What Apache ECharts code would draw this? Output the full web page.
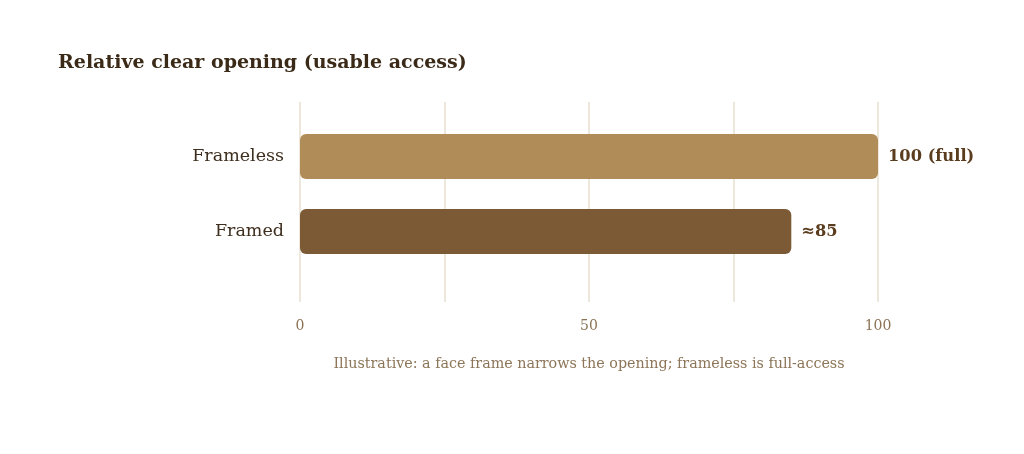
<!DOCTYPE html>
<html><head><meta charset="utf-8">
<script src="https://cdn.jsdelivr.net/npm/echarts@6/dist/echarts.min.js"></script>
<style>html,body{margin:0;padding:0;background:#fff}#c{width:1024px;height:454px}</style>
</head><body><div id="c"></div>
<script>
const categories = ['Frameless', 'Framed'];
const values = [100, 85];
const valueLabels = ['100 (full)', '≈85'];
const barColors = ['#b08d58', '#7b5a35'];
const tickLabels = {0: '0', 50: '50', 100: '100'};
const titleText = 'Relative clear opening (usable access)';
const captionText = 'Illustrative: a face frame narrows the opening; frameless is full-access';

const FONT = "'DejaVu Serif', 'Liberation Serif', serif";
const chart = echarts.init(document.getElementById('c'), null, {renderer: 'canvas'});
chart.setOption({
  animation: false,
  title: [{
    text: titleText, left: 53, top: 49,
    textStyle: {fontFamily: FONT, fontWeight: 'bold', fontSize: 19, color: '#3a2a17'}
  }, {
    text: captionText, left: 584, top: 352, textAlign: 'center',
    textStyle: {fontFamily: FONT, fontWeight: 'normal', fontSize: 14.3, color: '#8c7558'}
  }],
  grid: [
    {left: 300, width: 578, top: 102, height: 200},
    {left: 300, width: 578, top: 119, height: 150}
  ],
  xAxis: [{
    gridIndex: 0, type: 'value', min: 0, max: 100, interval: 25,
    axisLine: {show: false}, axisTick: {show: false},
    splitLine: {show: true, lineStyle: {color: '#e8dfd1', width: 1.5}},
    axisLabel: {
      margin: 17, fontFamily: FONT, fontSize: 14, color: '#8c7254',
      formatter: v => (tickLabels[v] !== undefined ? tickLabels[v] : '')
    }
  }, {
    gridIndex: 1, type: 'value', min: 0, max: 100, show: false
  }],
  yAxis: [{
    gridIndex: 0, type: 'category', data: categories, show: false
  }, {
    gridIndex: 1, type: 'category', data: categories, inverse: true,
    axisLine: {show: false}, axisTick: {show: false}, splitLine: {show: false},
    axisLabel: {margin: 16, fontFamily: FONT, fontSize: 17.5, color: '#3d2e1e'}
  }],
  series: [{
    type: 'bar', xAxisIndex: 1, yAxisIndex: 1, barWidth: 45,
    data: values.map((v, i) => ({value: v, itemStyle: {color: barColors[i]}})),
    itemStyle: {borderRadius: 6},
    label: {
      show: true, position: 'right', distance: 10,
      fontFamily: FONT, fontWeight: 'bold', fontSize: 16.3, color: '#5a3d1e',
      formatter: p => valueLabels[p.dataIndex]
    }
  }]
});
</script></body></html>
